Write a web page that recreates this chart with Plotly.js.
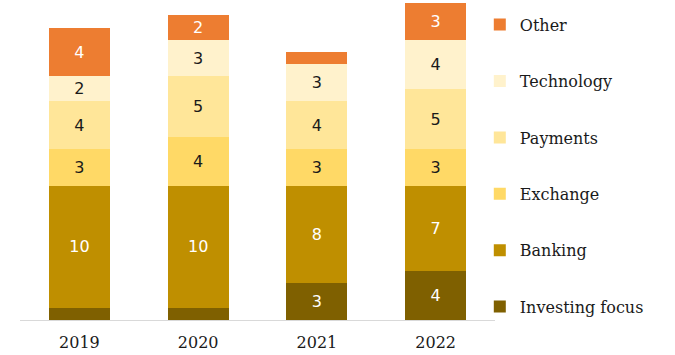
<!DOCTYPE html>
<html>
<head>
<meta charset="utf-8">
<script src="https://cdn.plot.ly/plotly-3.0.1.min.js"></script>
<style>html,body{margin:0;padding:0;background:#fff;}#chart{width:675px;height:355px;}</style>
</head>
<body>
<div id="chart"></div>
<script>
const years = ["2019", "2020", "2021", "2022"];
const investingFocus = [1, 1, 3, 4];
const banking = [10, 10, 8, 7];
const exchange = [3, 4, 3, 3];
const payments = [4, 5, 4, 5];
const technology = [2, 3, 3, 4];
const other = [4, 2, 1, 3];

const seriesNames = ["Investing focus", "Banking", "Exchange", "Payments", "Technology", "Other"];
const seriesValues = [investingFocus, banking, exchange, payments, technology, other];
const seriesColors = ["#7F6000", "#BF8F00", "#FFD966", "#FFE699", "#FFF2CC", "#ED7D31"];
const textColors = ["#ffffff", "#ffffff", "#1a1a1a", "#1a1a1a", "#1a1a1a", "#ffffff"];

const traces = seriesNames.map((name, i) => ({
  type: "bar",
  name: name,
  legendgroup: name,
  legendrank: seriesNames.length - i,
  x: years,
  y: seriesValues[i],
  text: seriesValues[i].map(v => v > 1 ? String(v) : ""),
  textposition: "inside",
  insidetextanchor: "middle",
  textangle: 0,
  constraintext: "none",
  textfont: {family: "DejaVu Sans, sans-serif", size: 16, color: textColors[i]},
  marker: {color: seriesColors[i], line: {width: 0}},
  hoverinfo: "x+y+name"
}));

const layout = {
  width: 675,
  height: 355,
  margin: {l: 20, r: 180, t: 0, b: 35},
  paper_bgcolor: "#ffffff",
  plot_bgcolor: "#ffffff",
  barmode: "stack",
  bargap: 0.487,
  showlegend: true,
  legend: {
    x: 0.968, xanchor: "left",
    y: 0.976, yanchor: "top",
    traceorder: "grouped",
    tracegroupgap: 32.6,
    font: {family: "DejaVu Serif, serif", size: 16, color: "#1a1a1a"},
    itemwidth: 30,
    bgcolor: "rgba(0,0,0,0)"
  },
  xaxis: {
    type: "category",
    range: [-0.5, 3.5],
    showline: true,
    linecolor: "#D9D9D9",
    linewidth: 1,
    ticks: "",
    ticklabelstandoff: 8,
    showgrid: false,
    zeroline: false,
    tickfont: {family: "DejaVu Serif, serif", size: 16, color: "#1a1a1a"}
  },
  yaxis: {
    range: [0, 26.27],
    showgrid: false,
    zeroline: false,
    showline: false,
    showticklabels: false,
    ticks: ""
  }
};

Plotly.newPlot("chart", traces, layout, {displayModeBar: false, staticPlot: true});
</script>
</body>
</html>
